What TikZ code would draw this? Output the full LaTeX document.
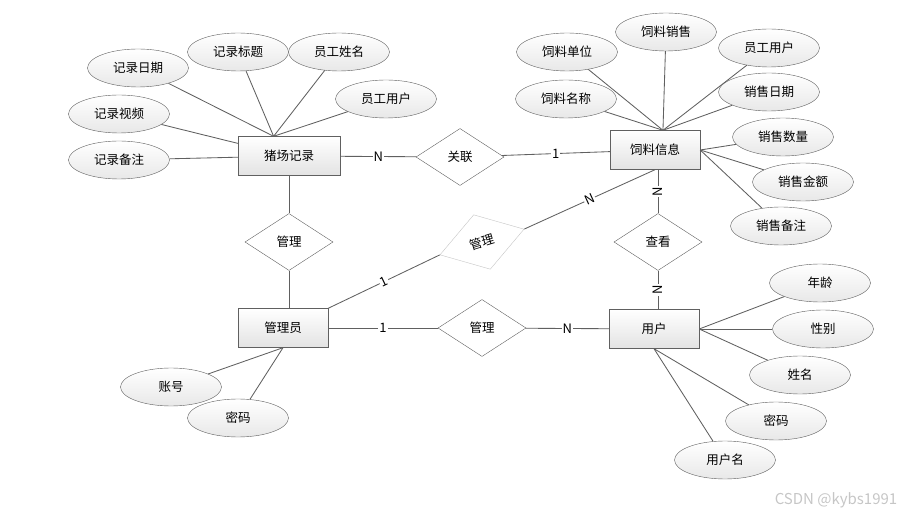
\documentclass[tikz,border=0pt]{standalone}
\usepackage{fontspec}
\setmainfont{Noto Sans CJK SC}
\usepackage{tikz}
\usetikzlibrary{shapes}

\tikzset{
    entity/.style={rectangle, draw=gray!75!black, top color=white, bottom color=gray!22,
        minimum width=90pt, minimum height=39pt, font=\fontsize{12.5}{14}\selectfont},
    attr/.style={ellipse, draw=gray!75!black, top color=white, bottom color=gray!18,
        minimum width=101pt, minimum height=38pt, inner sep=0pt, font=\fontsize{12.5}{14}\selectfont},
    rel/.style={diamond, draw=gray!75!black, fill=white, inner sep=0pt,
        minimum width=88pt, minimum height=57pt, font=\fontsize{12.5}{14}\selectfont},
    card/.style={fill=white, inner sep=1pt, font=\fontsize{13}{15}\selectfont}
}

\begin{document}
\begin{tikzpicture}[x=1pt, y=-1pt]
    \useasboundingbox (0,0) rectangle (913,518);

    % entities
    \node[entity, minimum width=102pt] (farm) at (289,156) {猪场记录};
    \node[entity] (feed)  at (655,150) {饲料信息};
    \node[entity] (admin) at (283,328) {管理员};
    \node[entity] (user)  at (654,329) {用户};

    % relations
    \node[rel] (link) at (460,157) {关联};
    \node[rel] (mgrA) at (289,242) {管理};
    \node[rel] (mgrB) at (482,328) {管理};
    \node[rel] (view) at (658,242) {查看};
    \node[rel, rotate=17, draw=gray!45] (mgrC) at (482,242) {管理};

    % attributes
    \node[attr] (fDate)  at (138,68)  {记录日期};
    \node[attr] (fTitle) at (238,52)  {记录标题};
    \node[attr] (fStaff) at (339,52)  {员工姓名};
    \node[attr] (fUser)  at (386,99)  {员工用户};
    \node[attr] (fVideo) at (119,114) {记录视频};
    \node[attr] (fNote)  at (119,160) {记录备注};

    \node[attr] (sUnit)  at (567,52)  {饲料单位};
    \node[attr] (sSale)  at (666,32)  {饲料销售};
    \node[attr] (sUser)  at (769,48)  {员工用户};
    \node[attr] (sName)  at (566,99)  {饲料名称};
    \node[attr] (sDate)  at (769,92)  {销售日期};
    \node[attr] (sQty)   at (783,137) {销售数量};
    \node[attr] (sSum)   at (803,182) {销售金额};
    \node[attr] (sNote)  at (781,226) {销售备注};

    \node[attr] (uAge)   at (820,283) {年龄};
    \node[attr] (uSex)   at (823,329) {性别};
    \node[attr] (uName)  at (800,375) {姓名};
    \node[attr] (uPwd)   at (776,421) {密码};
    \node[attr] (uLogin) at (725,460) {用户名};

    \node[attr] (aAcc)   at (171,387) {账号};
    \node[attr] (aPwd)   at (238,418) {密码};

    \node[text=gray!45, font=\fontsize{15}{17}\selectfont] (mark) at (836,500) {CSDN @kybs1991};

    % attribute lines
    \path[draw=gray!75!black, line width=0.85pt]
        (fDate)  edge (farm.128)
        (fTitle) edge (farm.128)
        (fStaff) edge (farm.128)
        (fUser)  edge (farm.128)
        (fVideo) edge (farm)
        (fNote)  edge (farm)
        (sUnit)  edge (feed.68)
        (sSale)  edge (feed.68)
        (sUser)  edge (feed.68)
        (sName)  edge (feed.68)
        (sDate)  edge (feed.68)
        (sQty)   edge (feed.east)
        (sSum)   edge (feed.east)
        (sNote)  edge (feed.east)
        (uAge)   edge (user.east)
        (uSex)   edge (user.east)
        (uName)  edge (user.east)
        (uPwd)   edge (user.south)
        (uLogin) edge (user.south)
        (aAcc)   edge (admin.south)
        (aPwd)   edge (admin.south);

    % relation lines
    \path[draw=gray!75!black, line width=0.85pt]
        (farm) edge node[card] {N} (link)
        (link) edge node[card] {1} (feed)
        (farm) edge (mgrA)
        (mgrA.south) edge (mgrA.south |- admin.north)
        (admin) edge node[card] {1} (mgrB)
        (mgrB) edge node[card] {N} (user)
        (view.north |- feed.south) edge node[card, rotate=90] {N} (view.north)
        (view.south) edge node[card, rotate=90] {N} (view.south |- user.north)
        (admin.north east) edge node[card, sloped] {1} (mgrC.west)
        (mgrC.east) edge node[card, sloped] {N} (feed.south);
\end{tikzpicture}
\end{document}
